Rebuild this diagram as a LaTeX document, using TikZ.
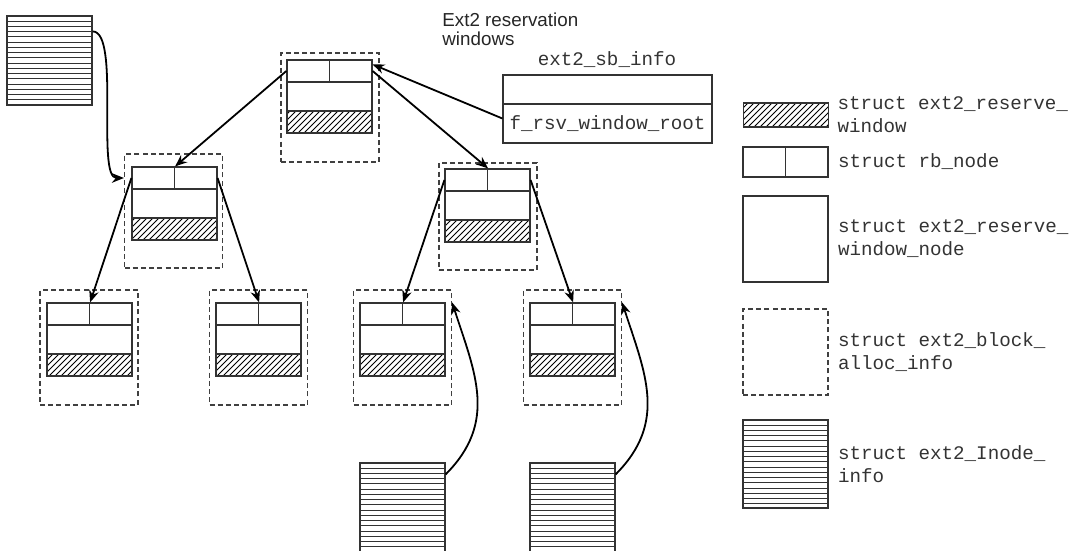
\documentclass[tikz,border=0pt]{standalone}
\usepackage{fontspec}
\setmainfont{Liberation Sans}
\setsansfont{Liberation Sans}
\setmonofont{Liberation Mono}
\usetikzlibrary{arrows.meta,patterns,positioning}

\begin{document}
\begin{tikzpicture}[x=0.5pt,y=0.5pt]
\tikzset{
  allocinfo/.style={draw=black!75,dash pattern=on 2.5pt off 1.6pt,semithick,minimum width=49pt,inner sep=0pt},
  rbhalf/.style={draw=black!80,semithick,minimum width=21.25pt,minimum height=11pt,inner sep=0pt},
  rsvbody/.style={draw=black!80,semithick,minimum width=42.5pt,minimum height=14.5pt,inner sep=0pt},
  rsvwin/.style={draw=black!80,semithick,pattern=north east lines,minimum width=42.5pt,minimum height=11pt,inner sep=0pt},
  inodeinfo/.style={draw=black!80,semithick,minimum width=42.5pt,minimum height=44.5pt,inner sep=0pt,
    path picture={\foreach \k in {1,...,20}
      \draw[black!80,line width=0.5pt] ([yshift=-\k*2.62pt]path picture bounding box.north west) -- ([yshift=-\k*2.62pt]path picture bounding box.north east);}},
  sbfield/.style={draw=black!80,semithick,minimum width=104.5pt,inner sep=0pt,text=black!80,font=\ttfamily\fontsize{9.6pt}{11.5pt}\selectfont},
  keytext/.style={align=left,inner sep=0pt,text=black!80,font=\ttfamily\fontsize{9.6pt}{11.5pt}\selectfont},
  directed/.style={-{Stealth[length=6pt,width=4.8pt]},line width=0.9pt}
}
\useasboundingbox (0,0) rectangle (1071,-551);
% root window
\node[allocinfo,minimum height=54.5pt] (n_root) at (330,-107.5) {};
\node[rbhalf] (n_root_l) at (308.25,-71) {};
\node[rbhalf] (n_root_r) at (350.75,-71) {};
\node[rsvbody] (n_root_b) at (329.5,-96.5) {};
\node[rsvwin] (n_root_w) at (329.5,-122) {};
% second level
\node[allocinfo,minimum height=57pt] (n_lm) at (173.5,-211) {};
\node[rbhalf] (n_lm_l) at (153.25,-178) {};
\node[rbhalf] (n_lm_r) at (195.75,-178) {};
\node[rsvbody] (n_lm_b) at (174.5,-203.5) {};
\node[rsvwin] (n_lm_w) at (174.5,-229) {};
\node[allocinfo,minimum height=53.5pt] (n_rm) at (488,-216.5) {};
\node[rbhalf] (n_rm_l) at (466.25,-180) {};
\node[rbhalf] (n_rm_r) at (508.75,-180) {};
\node[rsvbody] (n_rm_b) at (487.5,-205.5) {};
\node[rsvwin] (n_rm_w) at (487.5,-231) {};
% leaves
\node[allocinfo,minimum height=57.5pt] (n_l1) at (89,-347.5) {};
\node[rbhalf] (n_l1_l) at (68.25,-314) {};
\node[rbhalf] (n_l1_r) at (110.75,-314) {};
\node[rsvbody] (n_l1_b) at (89.5,-339.5) {};
\node[rsvwin] (n_l1_w) at (89.5,-365) {};
\node[allocinfo,minimum height=57.5pt] (n_l2) at (258.5,-347.5) {};
\node[rbhalf] (n_l2_l) at (237.25,-314) {};
\node[rbhalf] (n_l2_r) at (279.75,-314) {};
\node[rsvbody] (n_l2_b) at (258.5,-339.5) {};
\node[rsvwin] (n_l2_w) at (258.5,-365) {};
\node[allocinfo,minimum height=57.5pt] (n_l3) at (402.5,-347.5) {};
\node[rbhalf] (n_l3_l) at (381.25,-314) {};
\node[rbhalf] (n_l3_r) at (423.75,-314) {};
\node[rsvbody] (n_l3_b) at (402.5,-339.5) {};
\node[rsvwin] (n_l3_w) at (402.5,-365) {};
\node[allocinfo,minimum height=57.5pt] (n_l4) at (572.5,-347.5) {};
\node[rbhalf] (n_l4_l) at (551.25,-314) {};
\node[rbhalf] (n_l4_r) at (593.75,-314) {};
\node[rsvbody] (n_l4_b) at (572.5,-339.5) {};
\node[rsvwin] (n_l4_w) at (572.5,-365) {};
% inode infos
\node[inodeinfo] (n_ino_s) at (49.5,-60.5) {};
\node[inodeinfo,minimum height=50pt] (n_ino_l3) at (402.5,-513) {};
\node[inodeinfo,minimum height=50pt] (n_ino_l4) at (572.5,-513) {};
% superblock
\node[keytext] (n_sb_name) at (607,-60) {ext2\_sb\_info};
\node[sbfield,minimum height=14.5pt] (n_sb_top) at (607.5,-89.5) {};
\node[sbfield,minimum height=19.5pt] (n_sb_root) at (607.5,-123.5) {f\_rsv\_window\_root};
\node[align=left,inner sep=0pt,anchor=north west,text=black!85,font=\sffamily\fontsize{9.4pt}{9.6pt}\selectfont] (n_title) at (442,-12) {Ext2 reservation\\windows};
% legend
\node[rsvwin,minimum height=12pt] (n_key_win) at (786,-115) {};
\node[rbhalf,minimum height=15pt] (n_key_rbl) at (764.25,-162) {};
\node[rbhalf,minimum height=15pt] (n_key_rbr) at (806.75,-162) {};
\node[rsvbody,minimum height=43pt] (n_key_body) at (785.5,-239) {};
\node[allocinfo,minimum width=42.5pt,minimum height=43pt] (n_key_alloc) at (785.5,-352) {};
\node[inodeinfo,minimum height=44pt] (n_key_ino) at (785.5,-464) {};
\node[keytext,right=4pt of n_key_win] (t_key_win) {struct ext2\_reserve\_\\window};
\node[keytext,right=4.5pt of n_key_rbr] (t_key_rb) {struct rb\_node};
\node[keytext,right=4.5pt of n_key_body] (t_key_body) {struct ext2\_reserve\_\\window\_node};
\node[keytext,right=4.5pt of n_key_alloc] (t_key_alloc) {struct ext2\_block\_\\alloc\_info};
\node[keytext,right=4.5pt of n_key_ino] (t_key_ino) {struct ext2\_Inode\_\\info};
% connectors
\draw[directed] ([yshift=2.5pt]n_sb_root.west) -- ([yshift=-2.5pt]n_root_r.north east);
\draw[directed] (n_root_l.west) -- (n_lm_l.north east);
\draw[directed] (n_root_r.east) -- (n_rm_l.north east);
\draw[directed] (n_lm_l.west) -- (n_l1_l.north east);
\draw[directed] (n_lm_r.east) -- (n_l2_l.north east);
\draw[directed] (n_rm_l.west) -- (n_l3_l.north east);
\draw[directed] (n_rm_r.east) -- (n_l4_l.north east);
\draw[directed] ([yshift=-8pt]n_ino_s.north east) to[out=0,in=180,out distance=14pt,in distance=14pt] (n_lm.west |- n_lm_l.west);
\draw[directed] ([yshift=-6pt]n_ino_l3.north east) to[out=45,in=-72,looseness=1.1] (n_l3.east |- n_l3_l.north);
\draw[directed] ([yshift=-6pt]n_ino_l4.north east) to[out=45,in=-72,looseness=1.1] (n_l4.east |- n_l4_l.north);
\end{tikzpicture}
\end{document}
